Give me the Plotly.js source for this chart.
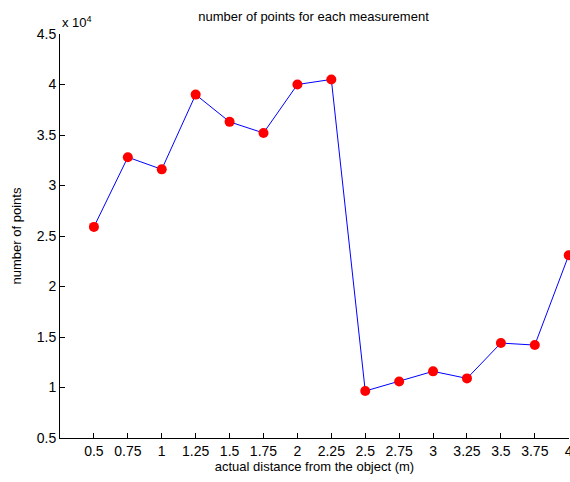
<!DOCTYPE html>
<html>
<head>
<meta charset="utf-8">
<script src="https://cdn.plot.ly/plotly-3.0.1.min.js"></script>
<style>html,body{margin:0;padding:0;background:#fff;}#chart{width:570px;height:482px;}</style>
</head>
<body>
<div id="chart"></div>
<script>
var distances = [0.5, 0.75, 1, 1.25, 1.5, 1.75, 2, 2.25, 2.5, 2.75, 3, 3.25, 3.5, 3.75, 4];
var pointCounts = [25900, 32800, 31600, 39000, 36300, 35200, 40000, 40500, 9650, 10600, 11600, 10900, 14400, 14200, 23100];
var xTickVals = [0.5, 0.75, 1, 1.25, 1.5, 1.75, 2, 2.25, 2.5, 2.75, 3, 3.25, 3.5, 3.75, 4];
var xTickText = ["0.5", "0.75", "1", "1.25", "1.5", "1.75", "2", "2.25", "2.5", "2.75", "3", "3.25", "3.5", "3.75", "4"];
var yTickVals = [5000, 10000, 15000, 20000, 25000, 30000, 35000, 40000, 45000];
var yTickText = ["0.5", "1", "1.5", "2", "2.5", "3", "3.5", "4", "4.5"];

var font = "Liberation Sans, Arial, sans-serif";
var trace = {
  x: distances,
  y: pointCounts,
  type: "scatter",
  mode: "lines+markers",
  line: {color: "#0000ff", width: 1},
  marker: {color: "#ff0000", size: 10, symbol: "circle"},
  cliponaxis: false,
  showlegend: false
};
var layout = {
  width: 570,
  height: 482,
  margin: {l: 60, r: 1, t: 34, b: 44},
  paper_bgcolor: "#ffffff",
  plot_bgcolor: "#ffffff",
  font: {family: font, size: 14, color: "#000000"},
  title: {text: "number of points for each measurement", font: {family: font, size: 13, color: "#000"}, x: 0.55, xanchor: "center", y: 0.965, yanchor: "middle"},
  xaxis: {
    range: [0.25, 4.002],
    tickvals: xTickVals,
    ticktext: xTickText,
    ticks: "inside",
    ticklen: 5,
    tickcolor: "#000",
    showline: true,
    linecolor: "#000",
    linewidth: 1,
    showgrid: false,
    zeroline: false,
    ticklabeloverflow: "allow",
    tickfont: {family: font, size: 14},
    title: {text: "actual distance from the object (m)", font: {family: font, size: 13}, standoff: 4}
  },
  yaxis: {
    range: [5000, 45000],
    tickvals: yTickVals,
    ticktext: yTickText,
    ticks: "inside",
    ticklen: 5,
    tickcolor: "#000",
    showline: true,
    linecolor: "#000",
    linewidth: 1,
    showgrid: false,
    zeroline: false,
    tickfont: {family: font, size: 14},
    title: {text: "number of points", font: {family: font, size: 13}, standoff: 12}
  },
  annotations: [{
    text: "x 10<sup>4</sup>",
    xref: "paper", yref: "paper",
    x: 0, y: 1,
    xanchor: "left", yanchor: "bottom",
    showarrow: false,
    font: {family: font, size: 13, color: "#000"},
    yshift: 2
  }]
};
Plotly.newPlot("chart", [trace], layout, {displayModeBar: false, staticPlot: true});
</script>
</body>
</html>
